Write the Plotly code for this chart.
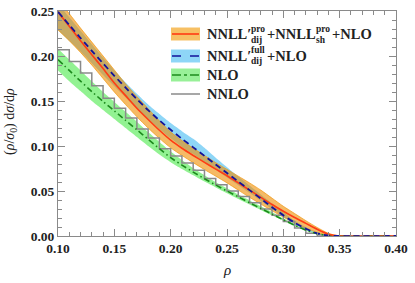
import plotly.graph_objects as go

# ---------------- data ----------------
rho = [0.10, 0.11, 0.12, 0.13, 0.14, 0.15, 0.16, 0.17, 0.18, 0.19, 0.20, 0.21, 0.22,
       0.23, 0.24, 0.25, 0.26, 0.27, 0.28, 0.29, 0.30, 0.31, 0.32, 0.33, 0.34, 0.35, 0.40]

pro_central = [0.249, 0.233, 0.217, 0.2015, 0.186, 0.170, 0.156, 0.142, 0.1295, 0.1175, 0.1065, 0.0975, 0.0895,
               0.0818, 0.0743, 0.067, 0.059, 0.051, 0.043, 0.035, 0.0275, 0.0205, 0.014, 0.0075, 0.002, 0.0, 0.0]
pro_lo = [0.229, 0.217, 0.204, 0.190, 0.175, 0.160, 0.146, 0.1325, 0.120, 0.1085, 0.098, 0.0895, 0.0815,
          0.0738, 0.0665, 0.059, 0.051, 0.043, 0.0355, 0.028, 0.021, 0.0145, 0.0085, 0.004, 0.0005, 0.0, 0.0]
pro_hi = [0.262, 0.247, 0.231, 0.2155, 0.200, 0.1845, 0.169, 0.155, 0.1415, 0.128, 0.1155, 0.106, 0.0975,
          0.0895, 0.0815, 0.074, 0.0665, 0.059, 0.051, 0.042, 0.033, 0.025, 0.017, 0.0095, 0.003, 0.0, 0.0]

full_central = [0.249, 0.2345, 0.220, 0.2058, 0.1918, 0.178, 0.1648, 0.152, 0.1398, 0.1285, 0.118, 0.108, 0.0985,
                0.089, 0.0795, 0.070, 0.0605, 0.051, 0.0415, 0.032, 0.023, 0.0148, 0.008, 0.003, 0.0005, 0.0, 0.0]
full_lo = [0.229, 0.217, 0.205, 0.192, 0.179, 0.1665, 0.154, 0.1415, 0.130, 0.119, 0.1085, 0.099, 0.091,
           0.082, 0.0735, 0.065, 0.0565, 0.048, 0.039, 0.030, 0.021, 0.013, 0.0068, 0.0023, 0.0003, 0.0, 0.0]
full_hi = [0.258, 0.243, 0.228, 0.213, 0.198, 0.1840, 0.1705, 0.158, 0.146, 0.1355, 0.1255, 0.1165, 0.108,
           0.098, 0.087, 0.0765, 0.0662, 0.0562, 0.0462, 0.0362, 0.0265, 0.0172, 0.0098, 0.004, 0.0008, 0.0, 0.0]

nlo_central = [0.196, 0.184, 0.172, 0.1605, 0.1495, 0.139, 0.1285, 0.118, 0.1075, 0.097, 0.087, 0.0788, 0.071,
               0.0636, 0.0566, 0.050, 0.0435, 0.037, 0.0306, 0.0243, 0.018, 0.012, 0.0065, 0.0025, 0.0005, 0.0, 0.0]
nlo_lo = [0.184, 0.172, 0.161, 0.150, 0.140, 0.130, 0.120, 0.110, 0.100, 0.0905, 0.082, 0.0745, 0.0675,
          0.0605, 0.054, 0.0475, 0.041, 0.035, 0.029, 0.023, 0.017, 0.011, 0.0058, 0.002, 0.0003, 0.0, 0.0]
nlo_hi = [0.208, 0.196, 0.184, 0.172, 0.160, 0.149, 0.138, 0.127, 0.1155, 0.1045, 0.094, 0.0845, 0.0755,
          0.0675, 0.0598, 0.053, 0.046, 0.0395, 0.033, 0.0265, 0.0195, 0.013, 0.0072, 0.003, 0.0007, 0.0, 0.0]

nnlo_edges = [round(0.10 + 0.01 * i, 2) for i in range(31)]
nnlo_vals = [0.207, 0.194, 0.181, 0.167, 0.153, 0.142, 0.131, 0.119, 0.109, 0.097,
             0.089, 0.081, 0.073, 0.064, 0.057, 0.050, 0.044, 0.037, 0.030, 0.023,
             0.016, 0.009, 0.003, 0.001, 0.0, 0.0, 0.0, 0.0, 0.0, 0.0]

x_ticks = [0.10, 0.15, 0.20, 0.25, 0.30, 0.35, 0.40]
y_ticks = [0.00, 0.05, 0.10, 0.15, 0.20, 0.25]

# ---------------- styles ----------------
C_OR_FILL = "rgba(238,140,0,0.6)"
C_OR_EDGE = "rgba(240,150,10,0.85)"
C_RED = "#ff3c14"
C_BL_FILL = "#8ed6f7"
C_NAVY = "#12129a"
C_GR_FILL = "rgba(110,238,110,0.75)"
C_GREEN = "#1c8a1c"
C_GREY = "#8a8a8a"
FONT = "Liberation Serif"

fig = go.Figure()

def band(lo, hi, fill, edge=None):
    w = 0.8 if edge else 0
    fig.add_trace(go.Scatter(x=rho, y=lo, mode="lines",
                             line=dict(width=w, color=edge or fill, shape="spline", smoothing=0.6),
                             showlegend=False, hoverinfo="skip"))
    fig.add_trace(go.Scatter(x=rho, y=hi, mode="lines", fill="tonexty", fillcolor=fill,
                             line=dict(width=w, color=edge or fill, shape="spline", smoothing=0.6),
                             showlegend=False, hoverinfo="skip"))

band(full_lo, full_hi, C_BL_FILL)
band(pro_lo, pro_hi, C_OR_FILL, C_OR_EDGE)
band(nlo_lo, nlo_hi, C_GR_FILL)

fig.add_trace(go.Scatter(x=nnlo_edges, y=nnlo_vals + [nnlo_vals[-1]], mode="lines",
                         line=dict(color=C_GREY, width=1.5, shape="hv"), showlegend=False))
fig.add_trace(go.Scatter(x=rho, y=nlo_central, mode="lines",
                         line=dict(color=C_GREEN, width=1.6, dash="6px,3px,1.5px,3px", shape="spline", smoothing=0.6),
                         showlegend=False))
fig.add_trace(go.Scatter(x=rho, y=pro_central, mode="lines",
                         line=dict(color=C_RED, width=1.6, shape="spline", smoothing=0.6), showlegend=False))
fig.add_trace(go.Scatter(x=rho, y=full_central, mode="lines",
                         line=dict(color=C_NAVY, width=1.8, dash="6px,4px", shape="spline", smoothing=0.6),
                         showlegend=False))

# ---------------- layout ----------------
W, H = 415, 283
L, R, T, B = 58, 396, 11, 236

def px(x):
    return (x - L) / (R - L)

def py(y):
    return (B - y) / (B - T)

axis_common = dict(showline=True, linecolor=C_GREY, linewidth=1, mirror="allticks",
                   ticks="inside", ticklen=7, tickcolor=C_GREY, tickwidth=1,
                   showgrid=False, zeroline=False, automargin=False,
                   tickfont=dict(family=FONT, size=13.5, color="#222", weight="bold"))

fig.update_layout(
    width=W, height=H,
    margin=dict(l=L, r=W - R, t=T, b=H - B),
    plot_bgcolor="white", paper_bgcolor="white",
    xaxis=dict(range=[0.10, 0.40], tickvals=x_ticks, ticktext=[f"{v:.2f}" for v in x_ticks],
               minor=dict(dtick=0.01, ticks="inside", ticklen=4, tickcolor=C_GREY), **axis_common),
    yaxis=dict(range=[0.0, 0.25], tickvals=y_ticks, ticktext=[f"{v:.2f}" for v in y_ticks],
               minor=dict(dtick=0.01, ticks="inside", ticklen=4, tickcolor=C_GREY), **axis_common),
    showlegend=False,
)

shapes = []
anns = []
sw0, sw1 = 171, 200
rows = [34, 56, 75, 94]
for yc, fillc, linec, dash in [(rows[0], "#f7c064", C_RED, "solid"),
                               (rows[1], C_BL_FILL, C_NAVY, "dash"),
                               (rows[2], "#98f098", C_GREEN, "dashdot")]:
    shapes.append(dict(type="rect", xref="paper", yref="paper", x0=px(sw0), x1=px(sw1),
                       y0=py(yc + 6.5), y1=py(yc - 6.5), fillcolor=fillc, line=dict(width=0), layer="above"))
    shapes.append(dict(type="line", xref="paper", yref="paper", x0=px(sw0 + 1), x1=px(sw1 - 1),
                       y0=py(yc), y1=py(yc), line=dict(color=linec, width=1.6, dash=dash), layer="above"))
shapes.append(dict(type="line", xref="paper", yref="paper", x0=px(sw0), x1=px(sw1),
                   y0=py(rows[3]), y1=py(rows[3]), line=dict(color=C_GREY, width=1.5), layer="above"))

TF = dict(family=FONT, size=14.5, color="#222", weight="bold")
SF = dict(family=FONT, size=9.5, color="#222", weight="bold")

def txt(x, y, s, font=TF, ys=0):
    anns.append(dict(xref="paper", yref="paper", x=px(x), y=py(y), text=s, showarrow=False,
                     xanchor="left", yanchor="middle", font=font, yshift=ys, borderpad=0))

# row 1
txt(206, rows[0], "NNLL′")
txt(250, rows[0], "pro", SF, 5.5)
txt(250, rows[0], "dij", SF, -5.5)
txt(266, rows[0], "+NNLL")
txt(315, rows[0], "pro", SF, 5.5)
txt(315, rows[0], "sh", SF, -5.5)
txt(331, rows[0], "+NLO")
# row 2
txt(206, rows[1], "NNLL′")
txt(250, rows[1], "full", SF, 5.5)
txt(250, rows[1], "dij", SF, -5.5)
txt(266, rows[1], "+NLO")
# rows 3, 4
txt(206, rows[2], "NLO")
txt(206, rows[3], "NNLO")

anns.append(dict(xref="paper", yref="paper", x=px(227), y=py(270), text="<i>ρ</i>", showarrow=False,
                 xanchor="center", yanchor="middle", font=dict(family=FONT, size=15, color="#222")))
anns.append(dict(xref="paper", yref="paper", x=px(11), y=py(122),
                 text="(<i>ρ</i>/<i>σ</i><sub>0</sub>) d<i>σ</i>/d<i>ρ</i>", showarrow=False,
                 textangle=-90, xanchor="center", yanchor="middle", font=dict(family=FONT, size=14, color="#222")))

fig.update_layout(shapes=shapes, annotations=anns)
fig.write_html("out.html", config={"displayModeBar": False},
               post_script="document.body.style.margin='0px';")
